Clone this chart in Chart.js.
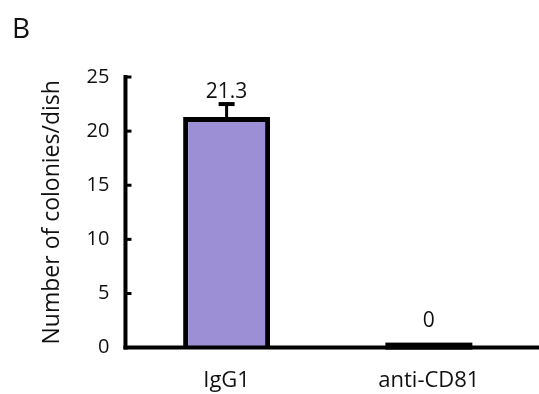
<!DOCTYPE html>
<html>
<head>
  <title>Colonies per dish</title>
  <script src="https://cdn.jsdelivr.net/npm/chart.js"></script>
  <style>
    body { margin: 0; background: #fff; }
    #wrap { width: 539px; height: 394px; }
  </style>
</head>
<body>
  <div id="wrap"><canvas id="coloniesChart"></canvas></div>

  <script>
    const categories = ['IgG1', 'anti-CD81'];
    const colonies = [21.3, 0];
    const errors = [1.2, 0];
    const valueLabels = ['21.3', '0'];
    const yTicks = [0, 5, 10, 15, 20, 25];

    const FONT = '"Open Sans", "DejaVu Sans", sans-serif';

    // axes, inward ticks, error bars, zero bars and value labels
    const decorations = {
      id: 'decorations',
      afterDatasetsDraw(chart) {
        const ctx = chart.ctx;
        const area = chart.chartArea;
        const y = chart.scales.y;
        const meta = chart.getDatasetMeta(0);
        ctx.save();
        ctx.strokeStyle = '#000';
        ctx.fillStyle = '#000';

        // y axis line
        ctx.lineWidth = 4;
        ctx.beginPath();
        ctx.moveTo(area.left, y.getPixelForValue(yTicks[yTicks.length - 1]) - 2);
        ctx.lineTo(area.left, area.bottom + 2);
        ctx.stroke();
        // x axis line, runs off the right edge
        ctx.beginPath();
        ctx.moveTo(area.left - 2, area.bottom);
        ctx.lineTo(chart.width, area.bottom);
        ctx.stroke();

        // ticks pointing into the plot
        ctx.lineWidth = 3;
        yTicks.forEach(t => {
          if (t === 0) return;
          const py = y.getPixelForValue(t);
          ctx.beginPath();
          ctx.moveTo(area.left, py);
          ctx.lineTo(area.left + 6, py);
          ctx.stroke();
        });

        meta.data.forEach((bar, i) => {
          const v = colonies[i];
          let top = bar.y;
          if (errors[i] > 0) {
            const ey = y.getPixelForValue(v + errors[i]);
            ctx.lineWidth = 3;
            ctx.beginPath();
            ctx.moveTo(bar.x, bar.y);
            ctx.lineTo(bar.x, ey);
            ctx.stroke();
            ctx.lineWidth = 4;
            ctx.beginPath();
            ctx.moveTo(bar.x - 8, ey);
            ctx.lineTo(bar.x + 8, ey);
            ctx.stroke();
            top = ey;
          }
          if (v === 0) {
            ctx.fillRect(bar.x - bar.width / 2, bar.base - 5, bar.width, 7);
            top = bar.base - 14;
          }
          ctx.font = '21px ' + FONT;
          ctx.fillStyle = '#111';
          ctx.textAlign = 'center';
          ctx.textBaseline = 'bottom';
          ctx.fillText(valueLabels[i], bar.x, top - 2);
          ctx.fillStyle = '#000';
        });

        // panel letter
        ctx.font = '28px ' + FONT;
        ctx.fillStyle = '#111';
        ctx.textAlign = 'left';
        ctx.textBaseline = 'alphabetic';
        ctx.fillText('B', 12, 38);
        ctx.restore();
      }
    };

    const ctx = document.getElementById('coloniesChart').getContext('2d');
    new Chart(ctx, {
      type: 'bar',
      data: {
        labels: categories,
        datasets: [{
          data: colonies,
          backgroundColor: '#9d8fd6',
          borderColor: '#000',
          borderWidth: 5,
          categoryPercentage: 1,
          barPercentage: 0.43
        }]
      },
      options: {
        responsive: true,
        maintainAspectRatio: false,
        animation: false,
        layout: { padding: { top: 77, right: 9, left: 35, bottom: -20 } },
        plugins: {
          legend: { display: false },
          tooltip: { enabled: false }
        },
        scales: {
          x: {
            grid: { display: false, drawTicks: false },
            border: { display: false },
            ticks: { color: '#111', font: { size: 22, family: FONT }, padding: 20 }
          },
          y: {
            min: 0,
            max: 25,
            grid: { display: false, drawTicks: false },
            border: { display: false },
            afterBuildTicks: axis => { axis.ticks = yTicks.map(v => ({ value: v })); },
            ticks: { color: '#111', font: { size: 20, family: FONT }, padding: 16 },
            title: {
              display: true,
              text: 'Number of colonies/dish',
              color: '#111',
              font: { size: 23, family: FONT },
              padding: 4
            }
          }
        }
      },
      plugins: [decorations]
    });
  </script>
</body>
</html>
